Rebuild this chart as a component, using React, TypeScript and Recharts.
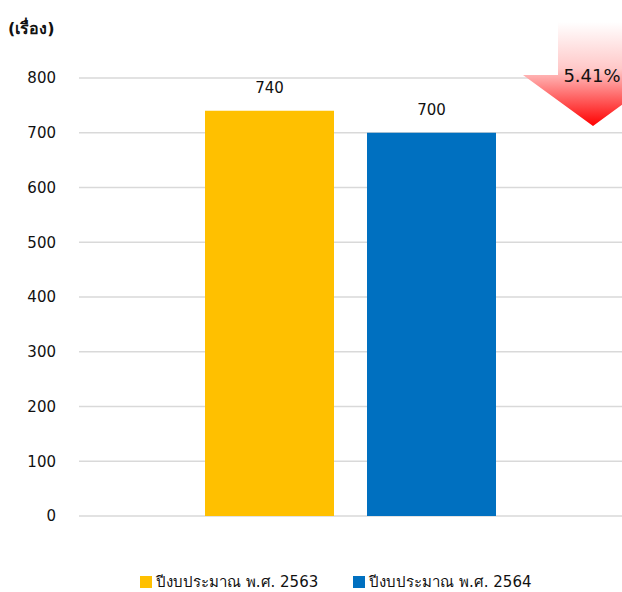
import React from "react";
import {
  BarChart, Bar, XAxis, YAxis, CartesianGrid, LabelList, Legend
} from "recharts";

const categories = ["จำนวนเรื่อง"];
const series2563 = [740];
const series2564 = [700];
const yTicks = [0, 100, 200, 300, 400, 500, 600, 700, 800];
const seriesNames = ["ปีงบประมาณ พ.ศ. 2563", "ปีงบประมาณ พ.ศ. 2564"];
const seriesColors = ["#FFC000", "#0070C0"];
const unitLabel = "(เรื่อง)";

const FONT = "'DejaVu Sans', Tahoma, sans-serif";

const data = categories.map((c, i) => ({
  name: c,
  a: series2563[i],
  b: series2564[i],
}));

const changePct = (((series2563[0] - series2564[0]) / series2563[0]) * 100).toFixed(2) + "%";

function LegendContent() {
  return (
    <div style={{ display: "flex", justifyContent: "flex-start", gap: 35, fontFamily: FONT, fontSize: 15, color: "#111", paddingLeft: 140, lineHeight: "24px" }}>
      {seriesNames.map((n, i) => (
        <div key={n} style={{ display: "flex", alignItems: "center" }}>
          <span style={{ width: 12, height: 12, background: seriesColors[i], display: "inline-block", marginRight: 4 }} />
          <span>{n}</span>
        </div>
      ))}
    </div>
  );
}

export default function App() {
  return (
    <div style={{ position: "absolute", left: 0, top: 0, width: 622, height: 592, background: "#fff" }}>
      <BarChart
        width={622}
        height={592}
        data={data}
        margin={{ top: 78, right: 0, bottom: 52, left: 0 }}
        barSize={129}
        barGap={33}
      >
        <CartesianGrid vertical={false} stroke="#d9d9d9" strokeWidth={1.5} />
        <XAxis dataKey="name" hide />
        <YAxis
          width={79}
          domain={[0, 800]}
          ticks={yTicks}
          axisLine={false}
          tickLine={false}
          tickMargin={17}
          tick={{ fill: "#111", fontSize: 15, fontFamily: FONT }}
        />
        <Legend
          content={<LegendContent />}
          wrapperStyle={{ position: "absolute", top: 570, left: 0, width: 622, height: 24 }}
        />
        <Bar dataKey="a" name={seriesNames[0]} fill={seriesColors[0]} isAnimationActive={false}>
          <LabelList dataKey="a" position="top" offset={18} fill="#111" fontSize={15} fontFamily={FONT} />
        </Bar>
        <Bar dataKey="b" name={seriesNames[1]} fill={seriesColors[1]} isAnimationActive={false}>
          <LabelList dataKey="b" position="top" offset={18} fill="#111" fontSize={15} fontFamily={FONT} />
        </Bar>
      </BarChart>
      <div style={{ position: "absolute", left: 8, top: 16, fontFamily: FONT, fontSize: 16, fontWeight: "bold", color: "#111" }}>
        {unitLabel}
      </div>
      <svg width={622} height={592} style={{ position: "absolute", left: 0, top: 0, pointerEvents: "none" }}>
        <defs>
          <linearGradient id="arrowGrad" x1="0" y1="0" x2="0" y2="1">
            <stop offset="0%" stopColor="#ffffff" />
            <stop offset="45%" stopColor="#ffc8c8" />
            <stop offset="100%" stopColor="#ff0000" />
          </linearGradient>
        </defs>
        <polygon points="558,22 628,22 628,75 663,75 593,126 523,75 558,75" fill="url(#arrowGrad)" />
        <text x={592} y={82} textAnchor="middle" fontFamily={FONT} fontSize={18} fill="#111">{changePct}</text>
      </svg>
    </div>
  );
}
